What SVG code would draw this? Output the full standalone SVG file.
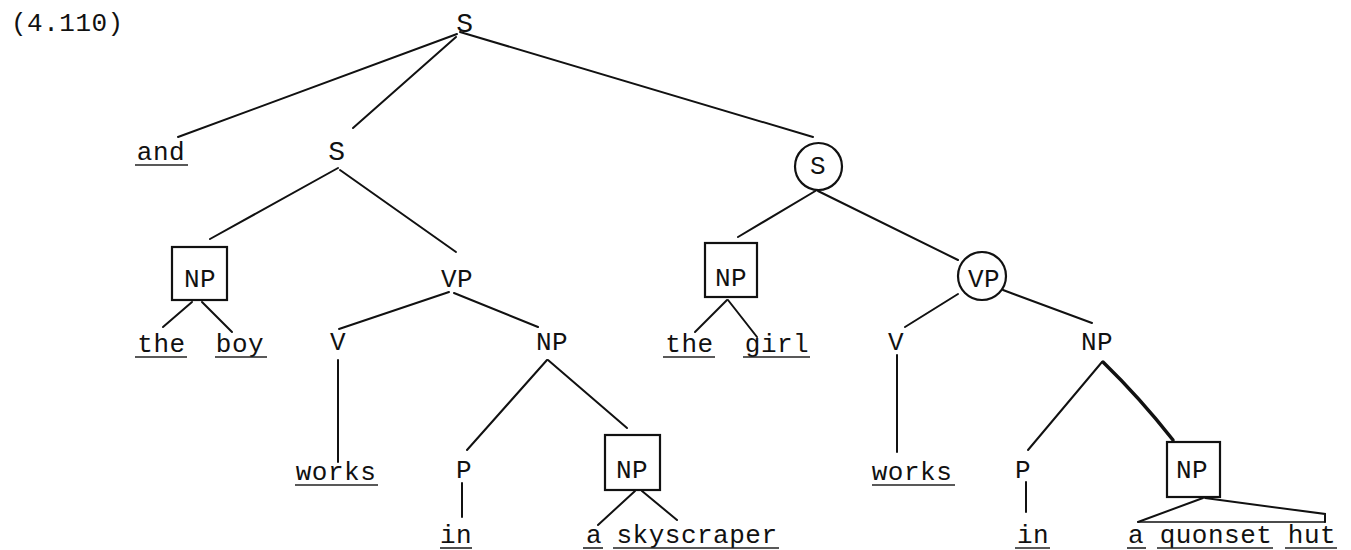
<svg xmlns="http://www.w3.org/2000/svg" width="1351" height="550" viewBox="0 0 1351 550">
<style>
text{font-family:"Liberation Mono","DejaVu Sans Mono",monospace;font-size:26px;letter-spacing:0.5px;fill:#111;text-anchor:middle}
.s{font-size:28px}
.lbl{text-anchor:start}
.e{fill:none;stroke:#111;stroke-width:2;stroke-linecap:round}
.ul{fill:none;stroke:#222;stroke-width:1.6}
.box{fill:none;stroke:#111;stroke-width:2.2}
</style>
<rect width="1351" height="550" fill="#fff"/>
<text class="lbl" x="11" y="31">(4.110)</text>
<g id="connectors">
<path class="e" d="M457,34 L178,137"/>
<path class="e" d="M456,37 L353,128"/>
<path class="e" d="M460,32 L813,137"/>
<path class="e" d="M338,168 L210,239"/>
<path class="e" d="M340,170 L456,252"/>
<path class="e" d="M192,302 L163,327"/>
<path class="e" d="M202,302 L232,332"/>
<path class="e" d="M449,292 L339,329"/>
<path class="e" d="M454,293 L538,327"/>
<path class="e" d="M338,360 L338,462"/>
<path class="e" d="M547,360 L467,450"/>
<path class="e" d="M548,360 L627,428"/>
<path class="e" d="M462,483 L462,517"/>
<path class="e" d="M635,491 L598,525"/>
<path class="e" d="M642,491 L677,520"/>
<path class="e" d="M817,190 L738,237"/>
<path class="e" d="M818,191 L958,260"/>
<path class="e" d="M727,300 L695,332"/>
<path class="e" d="M728,300 L757,337"/>
<path class="e" d="M958,294 L905,327"/>
<path class="e" d="M1003,290 L1092,323"/>
<path class="e" d="M897,355 L897,452"/>
<path class="e" d="M1102,362 L1028,450"/>
<path class="e" d="M1103,362 Q1140,398 1173,440" style="stroke-width:3.5"/>
<path class="e" d="M1026,482 L1026,512"/>
<path class="e" d="M1203,498 L1138,522"/>
<path class="e" d="M1205,498 L1325,514 L1325,522"/>
<path class="e" d="M1138,522 L1325,522" style="stroke-width:1.6"/>
</g>
<g id="n-S-top"><text class="s" x="465" y="32">S</text></g>
<g id="n-and"><text x="161" y="160">and</text><path class="ul" d="M135,165 H188"/></g>
<g id="n-S-left"><text class="s" x="337" y="160">S</text></g>
<g id="n-S-right"><circle class="box" cx="818.5" cy="166.5" r="23.5"/><text x="818" y="174">S</text></g>
<g id="n-NP-boy"><rect class="box" x="172" y="247" width="55" height="53"/><text x="200" y="287">NP</text></g>
<g id="n-VP-left"><text x="457" y="287">VP</text></g>
<g id="n-NP-girl"><rect class="box" x="705" y="243" width="52" height="54"/><text x="731" y="286">NP</text></g>
<g id="n-VP-right"><circle class="box" cx="982" cy="276" r="24"/><text x="984" y="287">VP</text></g>
<g id="n-the-1"><text x="161.5" y="352">the</text><path class="ul" d="M135,357 H187"/></g>
<g id="n-boy"><text x="240" y="352">boy</text><path class="ul" d="M215,357 H267"/></g>
<g id="n-V-left"><text x="338" y="350">V</text></g>
<g id="n-NP-left2"><text x="552" y="350">NP</text></g>
<g id="n-the-2"><text x="689.5" y="352">the</text><path class="ul" d="M663,357 H715"/></g>
<g id="n-girl"><text x="777" y="352">girl</text><path class="ul" d="M743,357 H810"/></g>
<g id="n-V-right"><text x="896" y="350">V</text></g>
<g id="n-NP-right2"><text x="1097" y="350">NP</text></g>
<g id="n-works-1"><text x="336" y="480">works</text><path class="ul" d="M295,485 H378"/></g>
<g id="n-P-left"><text x="464" y="478">P</text></g>
<g id="n-NP-sky"><rect class="box" x="605" y="435" width="55" height="55"/><text x="632" y="478">NP</text></g>
<g id="n-works-2"><text x="912" y="480">works</text><path class="ul" d="M872,485 H955"/></g>
<g id="n-P-right"><text x="1023" y="478">P</text></g>
<g id="n-NP-hut"><rect class="box" x="1167" y="442" width="53" height="55"/><text x="1192" y="478">NP</text></g>
<g id="n-in-1"><text x="456" y="543">in</text><path class="ul" d="M440,548 H472"/></g>
<g id="n-a-sky"><text x="594" y="543">a</text><path class="ul" d="M583,548 H603"/><text x="697" y="543">skyscraper</text><path class="ul" d="M613,548 H779"/></g>
<g id="n-in-2"><text x="1033" y="543">in</text><path class="ul" d="M1015,548 H1050"/></g>
<g id="n-a-hut"><text x="1136" y="543">a</text><path class="ul" d="M1127,548 H1146"/><text x="1216" y="543">quonset</text><path class="ul" d="M1157,548 H1273"/><text x="1312" y="543">hut</text><path class="ul" d="M1285,548 H1337"/></g>
</svg>
